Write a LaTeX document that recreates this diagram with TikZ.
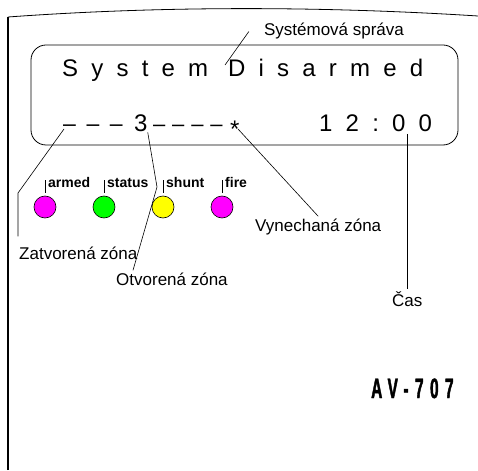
\documentclass[tikz,border=0pt]{standalone}
\usepackage{fontspec}
\setmainfont{Liberation Sans}
\newfontfamily\lcdfont[LetterSpace=55]{Liberation Sans}
\newfontfamily\dashfont[LetterSpace=46]{Liberation Sans}
\newfontfamily\tightdashfont[LetterSpace=31]{Liberation Sans}
\newfontfamily\modelfont[FakeStretch=0.55,FakeBold=1.5,LetterSpace=23]{Liberation Sans Bold}
\definecolor{ledmagenta}{RGB}{255,0,255}
\definecolor{ledgreen}{RGB}{0,255,0}
\definecolor{ledyellow}{RGB}{255,255,0}

\begin{document}
\begin{tikzpicture}[x=1pt, y=-1pt,
		lcd/.style={inner sep=0pt, anchor=base west, font=\lcdfont\fontsize{24}{24}\selectfont},
		lcddash/.style={lcd, font=\dashfont\fontsize{23}{23}\selectfont},
		lcdtight/.style={lcd, font=\tightdashfont\fontsize{22}{22}\selectfont},
		callout/.style={inner sep=2pt, font=\fontsize{17}{20}\selectfont},
		led/.style={draw, circle, minimum size=22pt, inner sep=0pt, line width=0.6pt},
		ledlabel/.style={inner sep=0pt, anchor=base west, font=\bfseries\fontsize{14}{14}\selectfont},
		pointer/.style={line width=0.6pt}]
			\useasboundingbox (0, 0) rectangle (478, 470);

			% housing
			\draw[line width=1.6pt] (8, 470) -- (8, 17);
			\draw[line width=0.8pt] (8, 17) .. controls (160, 6) and (320, 6) .. (478, 16);

			% display
			\draw[line width=0.8pt, rounded corners=15pt] (31, 45) rectangle (458, 145);
			\draw (62, 77) 		node[lcd] 		(msg) 		{System Disarmed};
			\draw (319, 132) 	node[lcd] 		(clock) 	{12:00};
			\draw (63, 132) 	node[lcddash] 	(closed) 	{–––};
			\draw (134, 132) 	node[lcd] 		(open) 		{3};
			\draw (153, 132) 	node[lcdtight] 	(opendash) 	{––––};
			\draw (230, 138) 	node[lcd] 		(bypass) 	{*};

			% leds
			\foreach \name/\x/\col in {armed/45/ledmagenta, status/104/ledgreen, shunt/163/ledyellow, fire/222/ledmagenta} {
				\draw (\x, 207) node[led, fill=\col] (\name) {};
				\draw (\x + 3, 187) node[ledlabel] (\name-label) {\name};
				\draw[pointer] ([yshift=3pt]\name.north) -- ([yshift=16pt]\name.north);
			}

			% callouts
			\draw (334, 36) 	node[callout, anchor=base] 		(msglabel) 	{Systémová správa};
			\draw (17, 259) 	node[callout, anchor=base west] (zclosed) 	{Zatvorená zóna};
			\draw (114, 285) 	node[callout, anchor=base west] (zopen) 	{Otvorená zóna};
			\draw (253, 231) 	node[callout, anchor=base west] (zbypass) 	{Vynechaná zóna};
			\draw (390, 306) 	node[callout, anchor=base west] (zcas) 		{Čas};

			\coordinate (msgtip) 		at (225, 65);
			\coordinate (kneeclosed) 	at (18, 193);
			\coordinate (kneeopen) 		at (157, 187);
			\coordinate (tick) 			at (407, 134);

			\draw[pointer] (msgtip) -- ([xshift=-13pt]msglabel.west);
			\draw[pointer] ([shift={(1, -3)}]closed.base west) -- (kneeclosed) -- ([yshift=8pt]kneeclosed |- zclosed.north);
			\draw[pointer] (open.south east) -- (kneeopen) -- ([xshift=19pt]zopen.north west);
			\draw[pointer] ([shift={(8, -9)}]bypass.base west) -- (zbypass.north);
			\draw[pointer] (tick) -- (tick |- zcas.north);

			% model
			\draw (371, 398) 	node[inner sep=0pt, anchor=base west, font=\modelfont\fontsize{28}{28}\selectfont] (model) {AV-707};
		\end{tikzpicture}
\end{document}
